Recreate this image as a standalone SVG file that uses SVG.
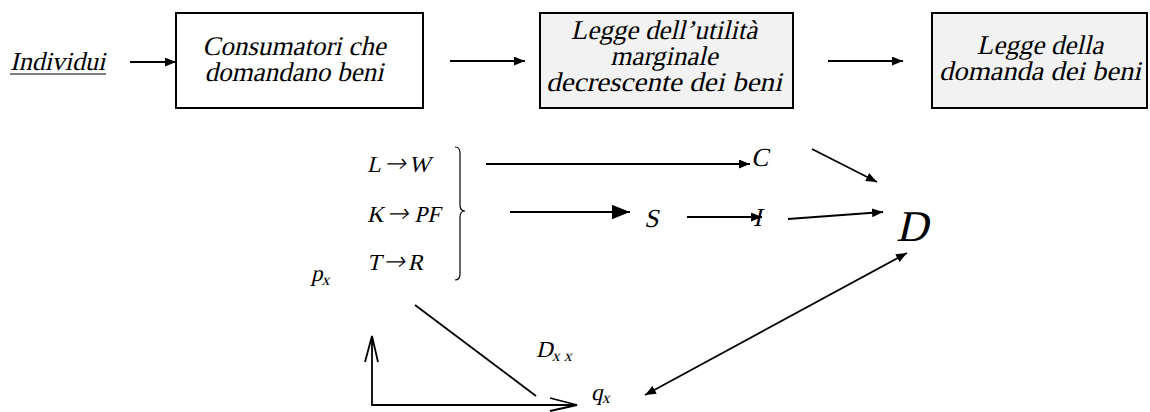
<svg xmlns="http://www.w3.org/2000/svg" width="1150" height="412" viewBox="0 0 1150 412">
<defs>
<style>
text{font-family:'Liberation Serif','Times New Roman',serif;font-style:normal;fill:#000}
.box{stroke:#000;stroke-width:2}
.t{font-size:27px;text-anchor:middle}
.m{font-size:23px}
.ar{font-family:'DejaVu Sans',sans-serif;font-size:26px;font-weight:200}
.ln{stroke:#000;stroke-width:1.8;fill:none}
.thin{stroke:#000;stroke-width:1.2;fill:none}
</style>
<marker id="ah" viewBox="0 0 10 8" refX="10" refY="4" markerWidth="11" markerHeight="9" markerUnits="userSpaceOnUse" orient="auto-start-reverse">
<path d="M0,0 L10,4 L0,8 Z" fill="#000"/>
</marker>
<marker id="ahb" viewBox="0 0 10 8" refX="10" refY="4" markerWidth="18" markerHeight="15" markerUnits="userSpaceOnUse" orient="auto">
<path d="M0,0 L10,4 L0,8 Z" fill="#000"/>
</marker>
</defs>

<g id="individui">
<text transform="translate(10,70) skewX(-13)" style="font-size:26px">Individui</text>
<line x1="10" y1="74" x2="106" y2="74" stroke="#000" stroke-width="1.2"/>
</g>

<g id="box1">
<rect class="box" x="176" y="13" width="247" height="95" fill="#fff"/>
<text class="t" transform="translate(294,55) skewX(-13)">Consumatori che</text>
<text class="t" transform="translate(294,81) skewX(-13)">domandano beni</text>
</g>

<g id="box2">
<rect class="box" x="540" y="13" width="253" height="95" fill="#f2f2f2"/>
<text class="t" transform="translate(664,39) skewX(-13)">Legge dell’utilità</text>
<text class="t" transform="translate(664,65) skewX(-13)">marginale</text>
<text class="t" transform="translate(664,91) skewX(-13)" textLength="236" lengthAdjust="spacingAndGlyphs">decrescente dei beni</text>
</g>

<g id="box3">
<rect class="box" x="932" y="13" width="215" height="95" fill="#f2f2f2"/>
<text class="t" transform="translate(1040,54) skewX(-13)">Legge della</text>
<text class="t" transform="translate(1040,80) skewX(-13)" textLength="202" lengthAdjust="spacingAndGlyphs">domanda dei beni</text>
</g>

<g id="factors">
<text class="m" transform="translate(367,172) skewX(-13)">L<tspan class="ar" dx="3">→</tspan><tspan dx="3">W</tspan></text>
<text class="m" transform="translate(367,222) skewX(-13)">K<tspan class="ar" dx="3">→</tspan><tspan dx="6">PF</tspan></text>
<text class="m" transform="translate(367,270) skewX(-13)">T<tspan class="ar" dx="2">→</tspan><tspan dx="3">R</tspan></text>
<path class="thin" d="M455,147 Q460,147 460,153 L460,205 Q460,211 465,211 Q460,211 460,217 L460,274 Q460,280 455,280"/>
</g>

<g id="C"><text transform="translate(751,166) skewX(-13)" style="font-size:26px">C</text></g>
<g id="S"><text transform="translate(644,227) skewX(-13)" style="font-size:26px">S</text></g>
<g id="I"><text transform="translate(753,226) skewX(-13)" style="font-size:26px">I</text></g>
<g id="D"><text transform="translate(896,241) skewX(-13)" style="font-size:44px">D</text></g>
<g id="px"><text class="m" transform="translate(311,281) skewX(-13)">p<tspan font-size="16" dy="4">x</tspan></text></g>
<g id="Dxx"><text class="m" transform="translate(536,357) skewX(-13)">D<tspan font-size="16" dy="4">x x</tspan></text></g>
<g id="qx"><text class="m" transform="translate(591,400) skewX(-13)">q<tspan font-size="16" dy="3">x</tspan></text></g>

<g id="connectors">
<line class="ln" x1="130" y1="62" x2="176" y2="62" marker-end="url(#ah)"/>
<line class="ln" x1="450" y1="61" x2="525" y2="61" marker-end="url(#ah)"/>
<line class="ln" x1="828" y1="61" x2="903" y2="61" marker-end="url(#ah)"/>
<line class="ln" x1="486" y1="164" x2="750" y2="164" marker-end="url(#ah)"/>
<line class="ln" x1="510" y1="212" x2="630" y2="212" marker-end="url(#ahb)"/>
<line class="ln" x1="687" y1="217" x2="762" y2="217" marker-end="url(#ah)"/>
<line class="ln" x1="788" y1="219" x2="883" y2="212" marker-end="url(#ah)"/>
<line class="ln" x1="812" y1="149" x2="877" y2="182" marker-end="url(#ah)"/>
<line class="ln" x1="645" y1="395" x2="907" y2="253" marker-start="url(#ah)" marker-end="url(#ah)"/>
<line class="ln" x1="415" y1="305" x2="536" y2="396"/>
<polyline class="ln" points="372,336 372,405 577,405"/>
<polyline class="ln" points="365,362 372,336 378,362"/>
<polyline class="ln" points="550,398 577,405 550,411"/>
</g>
</svg>
